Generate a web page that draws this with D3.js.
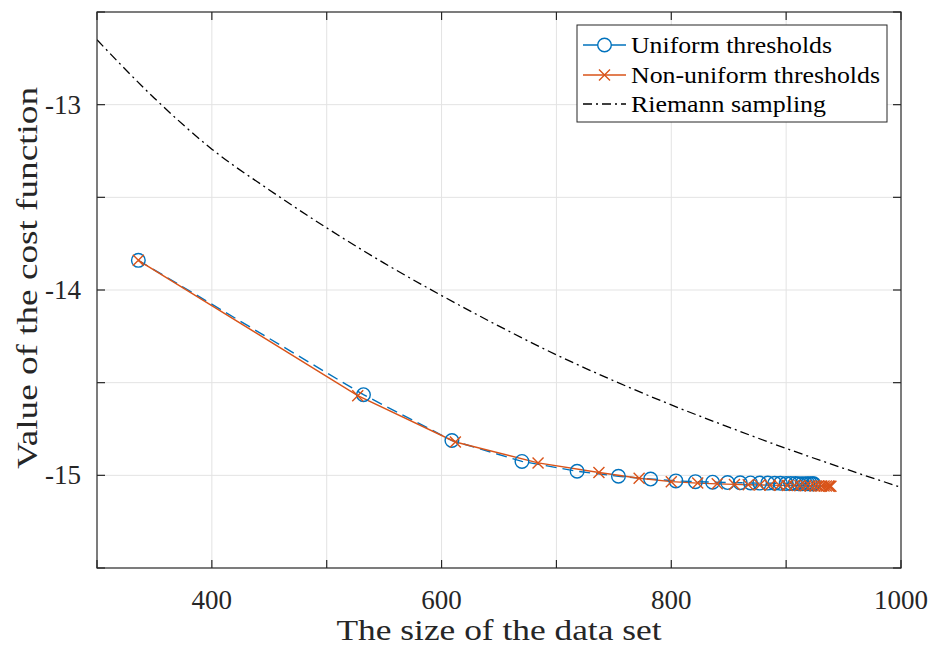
<!DOCTYPE html>
<html>
<head>
<meta charset="utf-8">
<script src="https://cdn.jsdelivr.net/npm/d3@7"></script>
<style>
  html, body { margin: 0; padding: 0; background: #fff; }
  svg { display: block; font-family: "Liberation Serif", "DejaVu Serif", serif; }
</style>
</head>
<body>
<svg id="chart" width="935" height="647"></svg>
<script>
// Uniform thresholds: data-set size and cost value at each threshold
const uniformX = [336, 532, 609, 670, 718, 754, 782, 804, 821, 836, 849, 860, 869, 877, 884, 890, 895, 900, 904, 908, 911, 914, 917, 919, 921, 923, 924];
const uniformY = [-13.84, -14.565, -14.812, -14.925, -14.978, -15.005, -15.02, -15.03, -15.034, -15.037, -15.039, -15.04, -15.041, -15.042, -15.042, -15.043, -15.043, -15.044, -15.044, -15.044, -15.045, -15.045, -15.045, -15.045, -15.045, -15.046, -15.046];

// Non-uniform thresholds
const nonUniformX = [336, 527, 612, 684, 737, 772, 800, 823, 840, 855, 867, 877, 886, 894, 901, 907, 912, 917, 921, 925, 928, 931, 933, 935, 937, 938, 939];
const nonUniformY = [-13.84, -14.57, -14.82, -14.933, -14.985, -15.016, -15.034, -15.042, -15.046, -15.049, -15.051, -15.052, -15.053, -15.054, -15.055, -15.055, -15.056, -15.056, -15.057, -15.057, -15.057, -15.058, -15.058, -15.058, -15.058, -15.059, -15.059];

// Riemann sampling reference curve
const riemannX = [300, 350, 400, 450, 500, 550, 600, 650, 700, 750, 800, 850, 900, 950, 1000];
const riemannY = [-12.65, -12.965, -13.24, -13.46, -13.665, -13.855, -14.03, -14.195, -14.35, -14.49, -14.62, -14.74, -14.855, -14.962, -15.065];

const xTicks = [300, 400, 500, 600, 700, 800, 900, 1000];
const xTickLabels = ["", "400", "", "600", "", "800", "", "1000"];
const yTicks = [-15.5, -15, -14.5, -14, -13.5, -13, -12.5];
const yTickLabels = ["", "-15", "", "-14", "", "-13", ""];

const legendNames = ["Uniform thresholds", "Non-uniform thresholds", "Riemann sampling"];

const colBlue = "#0072BD", colOrange = "#D95319", colAxis = "#262626", colGrid = "#e3e3e3";

const svg = d3.select("#chart");
const L = 97, R = 901, T = 12, B = 568;

const x = d3.scaleLinear().domain([300, 1000]).range([L, R]);
const y = d3.scaleLinear().domain([-15.5, -12.5]).range([B, T]);

// grid
const grid = svg.append("g");
grid.selectAll("line.gx").data(xTicks.slice(1, -1)).join("line")
  .attr("x1", d => x(d)).attr("x2", d => x(d)).attr("y1", T).attr("y2", B)
  .attr("stroke", colGrid).attr("stroke-width", 1);
grid.selectAll("line.gy").data(yTicks.slice(1, -1)).join("line")
  .attr("y1", d => y(d)).attr("y2", d => y(d)).attr("x1", L).attr("x2", R)
  .attr("stroke", colGrid).attr("stroke-width", 1);

// series
const pts = (xs, ys) => xs.map((v, i) => [v, ys[i]]);
const line = d3.line().x(d => x(d[0])).y(d => y(d[1]));
svg.append("clipPath").attr("id", "clip").append("rect")
  .attr("x", L).attr("y", T).attr("width", R - L).attr("height", B - T);

const plot = svg.append("g").attr("clip-path", "url(#clip)");

plot.append("path")
  .attr("d", d3.line().x(d => x(d[0])).y(d => y(d[1])).curve(d3.curveMonotoneX)(pts(riemannX, riemannY)))
  .attr("fill", "none").attr("stroke", "#000").attr("stroke-width", 1.3)
  .attr("stroke-dasharray", "9,4,2,4");

const uni = pts(uniformX, uniformY);
const non = pts(nonUniformX, nonUniformY);

plot.append("path").attr("d", line(uni))
  .attr("fill", "none").attr("stroke", colBlue).attr("stroke-width", 1.4)
  .attr("stroke-dasharray", "11,6");

plot.append("path").attr("d", line(non))
  .attr("fill", "none").attr("stroke", colOrange).attr("stroke-width", 1.4);

plot.selectAll("circle.u").data(uni).join("circle")
  .attr("cx", d => x(d[0])).attr("cy", d => y(d[1])).attr("r", 6.8)
  .attr("fill", "none").attr("stroke", colBlue).attr("stroke-width", 1.4);

const xMark = (g, cx, cy, s) => {
  g.append("path")
    .attr("d", `M${cx - s},${cy - s}L${cx + s},${cy + s}M${cx - s},${cy + s}L${cx + s},${cy - s}`)
    .attr("stroke", colOrange).attr("stroke-width", 1.4).attr("fill", "none");
};
non.forEach(d => xMark(plot, x(d[0]), y(d[1]), 5.5));

// axes box and inward ticks
const ax = svg.append("g").attr("stroke", colAxis).attr("stroke-width", 1.2);
ax.append("rect").attr("x", L).attr("y", T).attr("width", R - L).attr("height", B - T).attr("fill", "none");
const tl = 8;
xTicks.forEach(t => {
  ax.append("line").attr("x1", x(t)).attr("x2", x(t)).attr("y1", B).attr("y2", B - tl);
  ax.append("line").attr("x1", x(t)).attr("x2", x(t)).attr("y1", T).attr("y2", T + tl);
});
yTicks.forEach(t => {
  ax.append("line").attr("y1", y(t)).attr("y2", y(t)).attr("x1", L).attr("x2", L + tl);
  ax.append("line").attr("y1", y(t)).attr("y2", y(t)).attr("x1", R).attr("x2", R - tl);
});

// tick labels
svg.append("g").selectAll("text").data(xTicks).join("text")
  .attr("x", d => x(d)).attr("y", B + 41)
  .attr("text-anchor", "middle").attr("font-size", 27).attr("fill", colAxis)
  .text((d, i) => xTickLabels[i]);
svg.append("g").selectAll("text").data(yTicks).join("text")
  .attr("x", L - 16).attr("y", d => y(d) + 9)
  .attr("text-anchor", "end").attr("font-size", 27).attr("fill", colAxis)
  .text((d, i) => yTickLabels[i]);

// axis titles
svg.append("text").attr("x", 499).attr("y", 640)
  .attr("text-anchor", "middle").attr("font-size", 30).attr("fill", colAxis)
  .attr("textLength", 325).attr("lengthAdjust", "spacingAndGlyphs")
  .text("The size of the data set");
svg.append("text").attr("transform", `translate(37,${(T + B) / 2 - 12}) rotate(-90)`)
  .attr("text-anchor", "middle").attr("font-size", 30).attr("fill", colAxis)
  .attr("textLength", 382).attr("lengthAdjust", "spacingAndGlyphs")
  .text("Value of the cost function");

// legend
const lg = svg.append("g");
lg.append("rect").attr("x", 577).attr("y", 25).attr("width", 310).attr("height", 97)
  .attr("fill", "#fff").attr("stroke", colAxis).attr("stroke-width", 1);
const rowY = [45, 75, 104];
const rowW = [201, 249, 195];
legendNames.forEach((name, i) => {
  const yy = rowY[i];
  const ln = lg.append("line").attr("x1", 583).attr("x2", 626).attr("y1", yy).attr("y2", yy).attr("stroke-width", 1.4);
  if (i === 0) {
    ln.attr("stroke", colBlue);
    lg.append("circle").attr("cx", 604.5).attr("cy", yy).attr("r", 6.8)
      .attr("fill", "#fff").attr("stroke", colBlue).attr("stroke-width", 1.4);
  } else if (i === 1) {
    ln.attr("stroke", colOrange);
    xMark(lg, 604.5, yy, 5.5);
  } else {
    ln.attr("stroke", "#000").attr("stroke-dasharray", "9,4,2,4");
  }
  lg.append("text").attr("x", 631).attr("y", yy + 8).attr("font-size", 24).attr("fill", "#000")
    .attr("textLength", rowW[i]).attr("lengthAdjust", "spacingAndGlyphs")
    .text(name);
});
</script>
</body>
</html>
